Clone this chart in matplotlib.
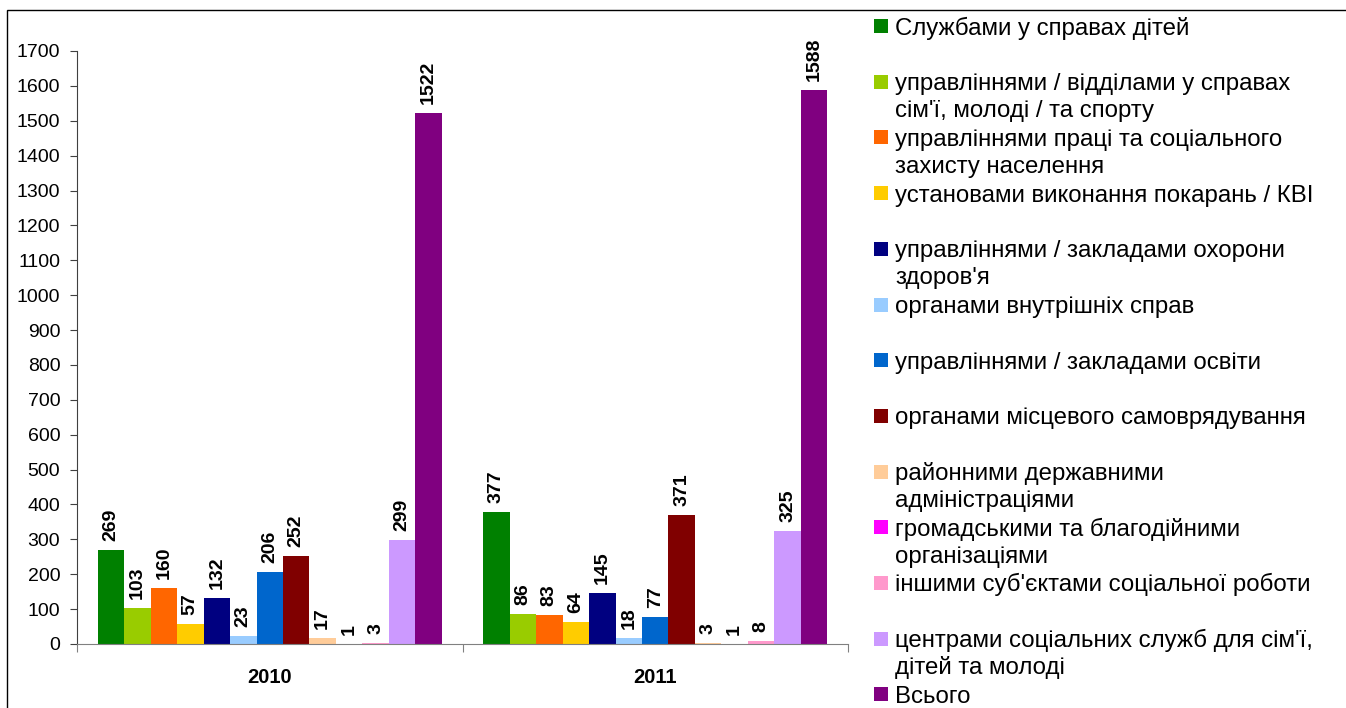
import matplotlib
matplotlib.use('Agg')
import matplotlib.pyplot as plt
import numpy as np
from matplotlib.patches import Rectangle

plt.rcParams['font.family'] = ['Liberation Sans', 'DejaVu Sans']

years = ['2010', '2011']
series_names = [
    'Службами у справах дітей',
    'управліннями / відділами у справах\nсім\'ї, молоді / та спорту',
    'управліннями праці та соціального\nзахисту населення',
    'установами виконання покарань / КВІ',
    'управліннями / закладами охорони\nздоров\'я',
    'органами внутрішніх справ',
    'управліннями / закладами освіти',
    'органами місцевого самоврядування',
    'районними державними\nадміністраціями',
    'громадськими та благодійними\nорганізаціями',
    'іншими суб\'єктами соціальної роботи',
    'центрами соціальних служб для сім\'ї,\nдітей та молоді',
    'Всього',
]
values_2010 = [269, 103, 160, 57, 132, 23, 206, 252, 17, 1, 3, 299, 1522]
values_2011 = [377, 86, 83, 64, 145, 18, 77, 371, 3, 1, 8, 325, 1588]
colors = ['#008000', '#99CC00', '#FF6600', '#FFCC00', '#000080', '#99CCFF',
          '#0066CC', '#800000', '#FFCC99', '#FF00FF', '#FF99CC', '#CC99FF',
          '#800080']

W, H = 1346, 708
fig = plt.figure(figsize=(W / 100, H / 100), dpi=100)
ax = fig.add_axes([77 / W, 1 - 644 / H, 771 / W, 593 / H])

n = len(series_names)
bw = 0.0687
x = np.arange(len(years))
for i in range(n):
    vals = [values_2010[i], values_2011[i]]
    pos = x - bw * n / 2 + bw * (i + 0.5)
    ax.bar(pos, vals, width=bw, color=colors[i], edgecolor='none')
    for p, v in zip(pos, vals):
        ax.text(p, v + 26, str(v), rotation=90, ha='center', va='bottom',
                fontsize=14, fontweight='bold')

ax.set_xlim(-0.5, 1.5)
ax.set_ylim(0, 1700)
ax.set_yticks(np.arange(0, 1701, 100))
ax.tick_params(axis='y', labelsize=14, length=5, direction='out', pad=7,
               color='#404040')
ax.set_xticks([-0.5, 0.5, 1.5])
ax.set_xticklabels([])
ax.tick_params(axis='x', length=6, direction='out', color='#808080')
ax.set_xticks(x, minor=True)
ax.set_xticklabels(years, minor=True, fontsize=14.5, fontweight='bold')
ax.tick_params(axis='x', which='minor', length=0, pad=17)
for s in ['top', 'right']:
    ax.spines[s].set_visible(False)
ax.spines['bottom'].set_color('#808080')
ax.spines['left'].set_color('#404040')

# manual legend, one slot per series
slot = 55.7
for i, name in enumerate(series_names):
    top = 19 + i * slot
    fig.patches.append(Rectangle((874 / W, 1 - (top + 14) / H), 14 / W, 14 / H,
                                 transform=fig.transFigure, facecolor=colors[i],
                                 edgecolor='none'))
    for k, line in enumerate(name.split('\n')):
        base = top + 15.5 + k * 27
        fig.text(895 / W, 1 - base / H, line, fontsize=17.3, va='baseline',
                 ha='left')

# outer frame
fig.patches.append(Rectangle((7 / W, -0.01), 1.1, 1 - 10 / H + 0.01,
                             transform=fig.transFigure, fill=False,
                             edgecolor='black', linewidth=1))

fig.savefig('out.png', dpi=100)
